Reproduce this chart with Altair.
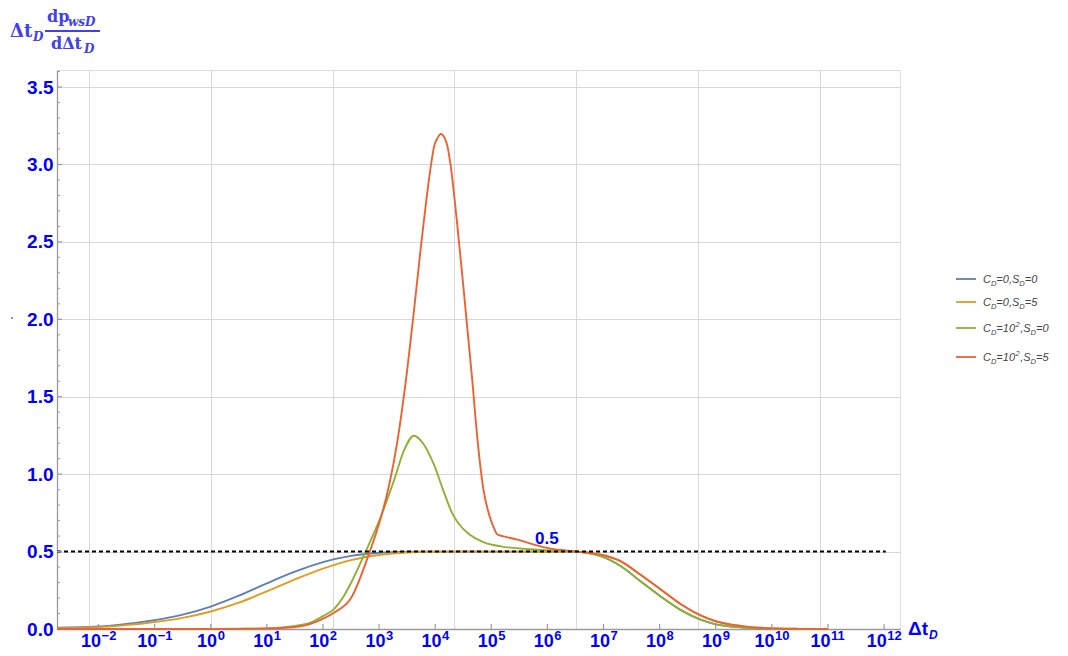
import altair as alt
import pandas as pd

# ---------------- data: log10(Δt_D) and derivative values
blue_lg = [-2.74, -2.0, -1.5, -1.0, -0.5, 0.0, 0.5, 1.0, 1.5, 2.0, 2.5, 3.0, 3.5, 4.0, 5.0, 5.76,
           6.47, 6.95, 7.31, 7.66, 8.02, 8.38, 8.73, 9.0, 9.5, 10.0, 10.5, 11.0]
blue_y = [0.008, 0.016, 0.033, 0.057, 0.093, 0.145, 0.215, 0.295, 0.37, 0.432, 0.472, 0.492, 0.499, 0.5, 0.5, 0.5,
          0.5, 0.47, 0.405, 0.308, 0.21, 0.122, 0.06, 0.03, 0.01, 0.002, 0.0, 0.0]

orange_lg = [-2.74, -2.0, -1.5, -1.0, -0.5, 0.0, 0.5, 1.0, 1.5, 2.0, 2.5, 3.0, 3.5, 4.0, 4.5, 5.0, 6.0,
             6.48, 6.95, 7.31, 7.66, 8.02, 8.38, 8.73, 9.0, 9.5, 10.0, 10.5, 11.0]
orange_y = [0.005, 0.012, 0.025, 0.045, 0.072, 0.113, 0.17, 0.243, 0.32, 0.39, 0.445, 0.478, 0.494, 0.499, 0.5, 0.5,
            0.5, 0.5, 0.48, 0.437, 0.35, 0.255, 0.16, 0.088, 0.05, 0.017, 0.004, 0.001, 0.0]

green_lg = [-2.74, 0.0, 0.5, 1.0, 1.5, 1.8, 2.0, 2.2, 2.35, 2.5, 2.76, 3.01, 3.27, 3.45, 3.62, 3.80, 3.98, 4.16,
            4.30, 4.42, 4.58, 4.87, 5.17, 5.76, 6.47, 6.95, 7.31, 7.66, 8.02, 8.38, 8.73, 9.0, 9.5, 10.0, 10.5,
            11.0]
green_y = [0.0, 0.0, 0.001, 0.004, 0.02, 0.045, 0.083, 0.13, 0.2, 0.298, 0.5, 0.706, 0.964, 1.158, 1.248, 1.19,
           1.06, 0.879, 0.75, 0.68, 0.62, 0.56, 0.534, 0.513, 0.50, 0.47, 0.405, 0.308, 0.21, 0.122, 0.06, 0.03,
           0.01, 0.002, 0.0, 0.0]

red_lg = [-2.74, 0.0, 1.0, 1.6, 1.9, 2.2, 2.5, 2.834, 3.0, 3.18, 3.33, 3.476, 3.62, 3.74, 3.80, 3.93, 3.98,
          4.04, 4.10, 4.17, 4.22, 4.27, 4.385, 4.50, 4.66, 4.76, 4.86, 4.96, 5.05, 5.11, 5.2, 5.47, 5.76, 6.06,
          6.48, 6.95, 7.31, 7.66, 8.02, 8.38, 8.73, 9.0, 9.5, 10.0, 10.5, 11.0]
red_y = [0.0, 0.0, 0.003, 0.018, 0.05, 0.106, 0.2, 0.5, 0.68, 0.93, 1.22, 1.6, 2.05, 2.45, 2.64, 3.008, 3.115,
         3.17, 3.197, 3.17, 3.115, 3.008, 2.64, 2.22, 1.61, 1.2, 0.9, 0.74, 0.65, 0.61, 0.6, 0.577, 0.545, 0.519,
         0.502, 0.48, 0.437, 0.35, 0.255, 0.16, 0.088, 0.05, 0.017, 0.004, 0.001, 0.0]

series_lg = [blue_lg, orange_lg, green_lg, red_lg]
series_y = [blue_y, orange_y, green_y, red_y]
series_colors = ["#5E81B5", "#E19C24", "#8FB032", "#EB6235"]
# legend pieces: (text, kind) kind: n normal, sub subscript, sup superscript
legend_rows = [
    [("C", "n"), ("D", "sub"), ("=0,", "n"), ("S", "n"), ("D", "sub"), ("=0", "n")],
    [("C", "n"), ("D", "sub"), ("=0,", "n"), ("S", "n"), ("D", "sub"), ("=5", "n")],
    [("C", "n"), ("D", "sub"), ("=10", "n"), ("2", "sup"), (",S", "n"), ("D", "sub"), ("=0", "n")],
    [("C", "n"), ("D", "sub"), ("=10", "n"), ("2", "sup"), (",S", "n"), ("D", "sub"), ("=5", "n")],
]
x_exponents = [-2, -1, 0, 1, 2, 3, 4, 5, 6, 7, 8, 9, 10, 11, 12]
y_label_values = [0.0, 0.5, 1.0, 1.5, 2.0, 2.5, 3.0, 3.5]
ref_level = 0.5
ref_label = "0.5"

# ---------------- layout
W, H = 843, 559
X_DOMAIN = [10 ** -2.74, 10 ** 12.284]
Y_DOMAIN = [0, 3.61]
BLUE = "#0000ff"
TITLE_BLUE = "#4040ee"
SANS = "Liberation Sans"
SERIF = "DejaVu Serif"

xscale = alt.Scale(type="log", domain=X_DOMAIN, nice=False, clamp=False)
yscale = alt.Scale(domain=Y_DOMAIN, nice=False, zero=False)

grid_vals = [2.718281828459045 ** (5 * k) for k in range(-1, 6)]
xaxis = alt.Axis(values=grid_vals, grid=True, gridColor="#d8d8d8", gridWidth=1, labels=False, ticks=False,
                 domain=True, domainColor="#9a9a9a", domainWidth=1.3, title=None)
yaxis = alt.Axis(values=y_label_values, grid=True, gridColor="#d8d8d8", gridWidth=1, ticks=False, format=".1f",
                 labelFont=SANS, labelFontSize=19, labelFontWeight="bold", labelColor=BLUE, labelPadding=4,
                 domain=True, domainColor="#9a9a9a", domainWidth=1.3, title=None)

X = alt.X("t:Q", scale=xscale, axis=xaxis)
Y = alt.Y("y:Q", scale=yscale, axis=yaxis)

layers = []
one = pd.DataFrame({"a": [0]})

# curves
for lg, ys, col in zip(series_lg, series_y, series_colors):
    df = pd.DataFrame({"t": [10 ** v for v in lg], "y": ys})
    layers.append(alt.Chart(df).mark_line(color=col, strokeWidth=1.9, interpolate="monotone").encode(x=X, y=Y))

# dashed reference line
ref_df = pd.DataFrame({"t": [X_DOMAIN[0]], "t2": [10 ** 12.03], "y": [ref_level]})
layers.append(alt.Chart(ref_df).mark_rule(color="black", strokeWidth=2, strokeDash=[4, 3]).encode(
    x=X, x2="t2:Q", y=Y))
lab_df = pd.DataFrame({"t": [10 ** 5.99], "y": [0.584]})
layers.append(alt.Chart(lab_df).mark_text(text=ref_label, font=SANS, fontSize=17, fontWeight="bold",
                                          color=BLUE).encode(x=X, y=Y))

# x ticks (inward)
dec_df = pd.DataFrame({"t": [10.0 ** e for e in x_exponents]})
layers.append(alt.Chart(dec_df).mark_rule(color="#9a9a9a", strokeWidth=1.2).encode(
    x=X, y=alt.value(H), y2=alt.value(H - 5)))
# y ticks (inward)
major = [v for v in y_label_values if v > 0]
minor = [round(i * 0.1, 1) for i in range(1, 37) if i % 5]
layers.append(alt.Chart(pd.DataFrame({"y": major})).mark_rule(color="#9a9a9a", strokeWidth=1.2).encode(
    y=Y, x=alt.value(0), x2=alt.value(5)))
layers.append(alt.Chart(pd.DataFrame({"y": minor})).mark_rule(color="#9a9a9a", strokeWidth=1).encode(
    y=Y, x=alt.value(0), x2=alt.value(3)))

# x tick labels 10^e
AW = {"0": .556, "1": .556, "2": .556, "3": .556, "4": .556, "5": .556, "6": .556, "7": .556, "8": .556,
      "9": .556, "=": .584, ",": .278, "C": .722, "D": .722, "S": .667, "−": .584}


def width(s, size, k=1.0):
    return sum(AW.get(c, .556) for c in s) * size * k


BASE_FS, EXP_FS = 18, 13
LAB_Y = H + 18
groups = {}
for e in x_exponents:
    es = str(e).replace("-", "−")
    groups.setdefault(len(es), []).append((e, es))
for n, items in groups.items():
    es0 = items[0][1]
    wb = width("10", BASE_FS)
    we = width(es0, EXP_FS)
    dx = -(wb + we) / 2 + wb
    gdf = pd.DataFrame({"t": [10.0 ** e for e, _ in items], "ex": [s for _, s in items]})
    layers.append(alt.Chart(gdf).mark_text(text="10", align="right", baseline="alphabetic", dx=dx, font=SANS,
                                           fontSize=BASE_FS, fontWeight="bold", color=BLUE).encode(
        x=X, y=alt.value(LAB_Y)))
    layers.append(alt.Chart(gdf).mark_text(align="left", baseline="alphabetic", dx=dx + 0.5, dy=-7, font=SANS,
                                           fontSize=EXP_FS, fontWeight="bold", color=BLUE).encode(
        x=X, y=alt.value(LAB_Y), text="ex:N"))


def txt(s, x, y, size, color, font=SANS, weight="normal", style="normal", align="left"):
    return alt.Chart(one).mark_text(text=s, align=align, baseline="alphabetic", fontSize=size, font=font,
                                    fontWeight=weight, fontStyle=style, color=color).encode(
        x=alt.value(x), y=alt.value(y))


# x axis title Δt_D
layers.append(txt("Δt", 851, 565, 19, BLUE, weight="bold"))
layers.append(txt("D", 872, 569, 12, BLUE, weight="bold", style="italic"))

# y axis title: Δt_D * dp_wsD / dΔt_D
layers.append(txt("Δt", -47, -33, 18, TITLE_BLUE, font=SERIF, weight="bold"))
layers.append(txt("D", -24, -29, 12, TITLE_BLUE, font=SERIF, weight="bold", style="italic"))
layers.append(txt("dp", -10, -48, 16, TITLE_BLUE, font=SERIF, weight="bold"))
layers.append(txt("wsD", 11, -44, 12, TITLE_BLUE, font=SERIF, weight="bold", style="italic"))
layers.append(alt.Chart(one).mark_rule(color=TITLE_BLUE, strokeWidth=1.8).encode(
    x=alt.value(-12), x2=alt.value(43), y=alt.value(-39), ))
layers.append(txt("dΔt", -6, -21, 16, TITLE_BLUE, font=SERIF, weight="bold"))
layers.append(txt("D", 27, -17, 12, TITLE_BLUE, font=SERIF, weight="bold", style="italic"))
# stray dot on the left
layers.append(alt.Chart(one).mark_square(size=4, color="#8899cc", opacity=1).encode(
    x=alt.value(-45), y=alt.value(248)))

# legend
row_centers = [209, 232, 258, 287]
LEG_X = 926
LFS, SFS = 11, 7.5
for col, pieces, cy in zip(series_colors, legend_rows, row_centers):
    layers.append(alt.Chart(one).mark_rule(color=col, strokeWidth=1.8).encode(
        x=alt.value(899), x2=alt.value(919), y=alt.value(cy)))
    xx = LEG_X
    base = cy + 4
    for s, kind in pieces:
        if kind == "n":
            layers.append(txt(s, xx, base, LFS, "#444444", style="italic"))
            xx += width(s, LFS)
        elif kind == "sub":
            layers.append(txt(s, xx, base + 3, SFS, "#444444", style="italic"))
            xx += width(s, SFS)
        else:
            layers.append(txt(s, xx + 0.5, base - 5, SFS, "#444444", style="italic"))
            xx += width(s, SFS) + 1

chart = alt.layer(*layers).properties(
    width=W, height=H,
    padding={"left": 49, "top": 62, "right": 152, "bottom": 30},
    autosize=alt.AutoSizeParams(type="none"),
).configure_view(stroke=None).configure(background="white")

chart.save("out.html", embed_options={"renderer": "svg", "actions": False})
